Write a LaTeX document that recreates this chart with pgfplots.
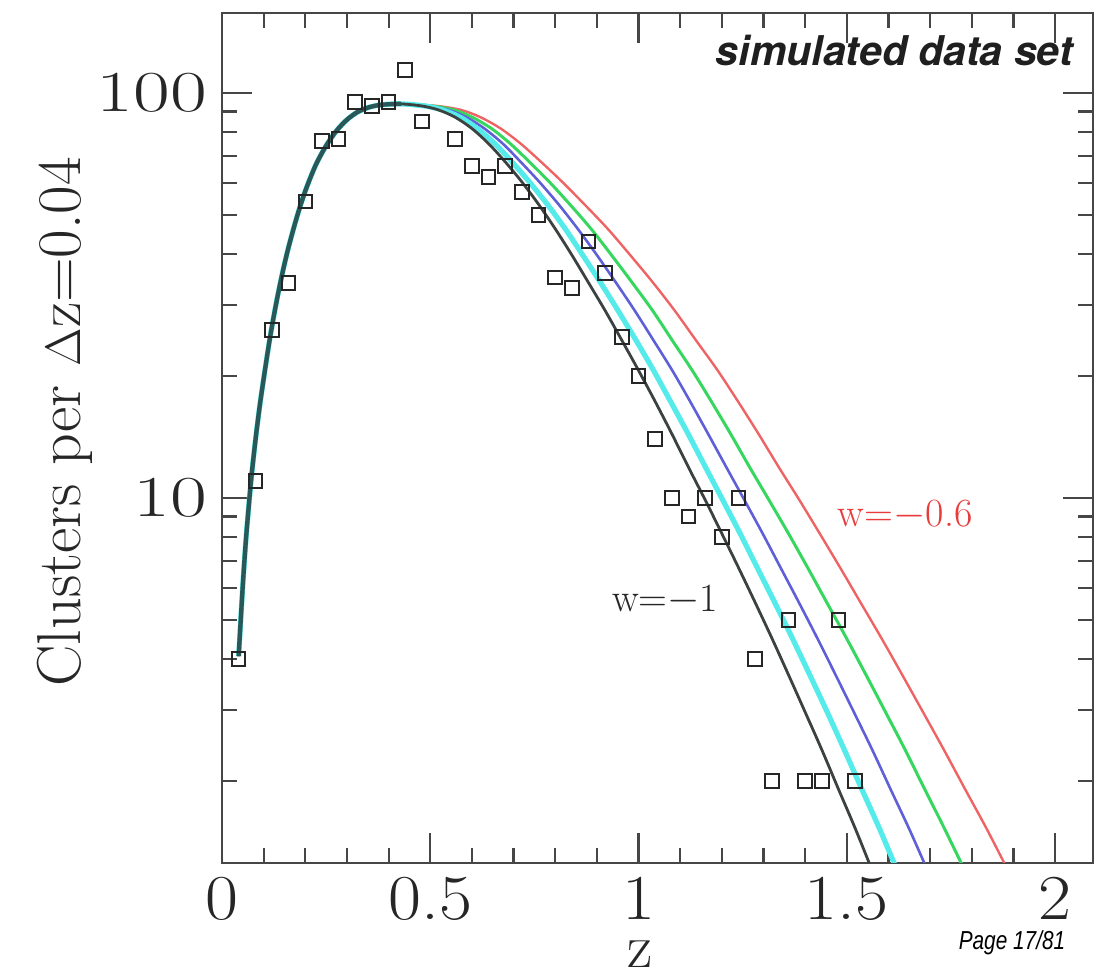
\documentclass[border=0pt]{standalone}
\usepackage{pgfplots}
\pgfplotsset{compat=1.18}
\usepackage{fontspec}
\usepackage{graphicx}
\newfontfamily\heros{TeX Gyre Heros}
\newfontfamily\libsans{Liberation Sans}
\definecolor{cRed}{RGB}{238,100,100}
\definecolor{cRedText}{RGB}{232,60,60}
\definecolor{cGreen}{RGB}{55,215,95}
\definecolor{cBlue}{RGB}{95,95,215}
\definecolor{cCyan}{RGB}{85,235,235}
\definecolor{cBlack}{RGB}{60,66,66}
\definecolor{cTeal}{RGB}{42,88,88}
\definecolor{cFrame}{RGB}{70,70,70}
\begin{document}
\begin{tikzpicture}
\begin{axis}[
  name=ax,
  scale only axis, width=435.5pt, height=425pt,
  xmin=0, xmax=2.091, ymin=1.2556, ymax=157.6, ymode=log,
  xtick={0,0.5,1,1.5,2},
  xticklabels={\scalebox{1.12}[1]{0},\scalebox{1.12}[1]{0.5},\scalebox{1.12}[1]{1},\scalebox{1.12}[1]{1.5},\scalebox{1.12}[1]{2}},
  xminorticks=true, minor x tick num=4,
  xtick pos=both, ytick pos=both,
  ytick={10,100}, yticklabels={\scalebox{1.38}[1]{10},\scalebox{1.38}[1]{100}},
  minor ytick={2,3,4,5,6,7,8,9,20,30,40,50,60,70,80,90},
  tick align=inside, major tick length=15pt, minor tick length=7.5pt,
  axis line style={cFrame, line width=1.3pt},
  major tick style={cFrame, line width=1.1pt},
  minor tick style={cFrame, line width=1.1pt},
  xticklabel style={font=\fontsize{32}{36}\selectfont, text=black!85, inner sep=1pt, yshift=-6pt},
  yticklabel style={font=\fontsize{29}{34}\selectfont, text=black!85, xshift=-4pt},
  xlabel={z}, ylabel={Clusters per $\Delta$z=0.04},
  label style={font=\fontsize{31}{36}\selectfont, text=black!85},
  xlabel style={at={(axis description cs:0.48,-0.107)}, anchor=center, inner sep=0.5pt},
  ylabel style={at={(axis description cs:-0.180,0.519)}, anchor=center},
  clip mode=individual,
]
% red w=-0.6
\addplot[cRed, line width=1.2pt, smooth] coordinates {
(0.040,4.07) (0.045,5.0) (0.050,6.1) (0.055,7.28) (0.060,8.5) (0.070,11.1) (0.080,13.8) (0.090,16.7) (0.100,19.7) (0.115,24.8) (0.130,30.2) (0.145,35.9) (0.160,41.7) (0.180,49.5) (0.200,57.3) (0.225,66.4) (0.250,74.1) (0.275,80.7) (0.300,85.9) (0.325,89.7) (0.350,92.0) (0.375,93.3) (0.400,93.8) (0.430,94.0)
(0.516,92.9) (0.574,90.8) (0.621,87.1) (0.669,81.7) (0.717,75.0) (0.766,67.6) (0.817,60.3) (0.870,53.1) (0.926,46.2) (0.980,39.8) (1.035,34.0) (1.087,29.0) (1.138,24.5) (1.190,20.65) (1.239,17.3) (1.288,14.4) (1.337,11.9) (1.386,9.89) (1.435,8.17) (1.484,6.73) (1.533,5.52) (1.583,4.51) (1.633,3.66) (1.683,2.96) (1.733,2.39) (1.784,1.91) (1.835,1.53) (1.886,1.21) (1.937,0.96)};
% green
\addplot[cGreen, line width=1.5pt, smooth] coordinates {
(0.040,4.07) (0.045,5.0) (0.050,6.1) (0.055,7.28) (0.060,8.5) (0.070,11.1) (0.080,13.8) (0.090,16.7) (0.100,19.7) (0.115,24.8) (0.130,30.2) (0.145,35.9) (0.160,41.7) (0.180,49.5) (0.200,57.3) (0.225,66.4) (0.250,74.1) (0.275,80.7) (0.300,85.9) (0.325,89.7) (0.350,92.0) (0.375,93.3) (0.400,93.8) (0.430,94.0)
(0.504,92.9) (0.557,90.8) (0.601,87.1) (0.647,81.7) (0.692,75.0) (0.738,67.6) (0.786,60.3) (0.835,53.1) (0.886,46.2) (0.935,39.8) (0.985,34.0) (1.034,29.0) (1.081,24.5) (1.129,20.65) (1.175,17.3) (1.221,14.4) (1.267,11.9) (1.313,9.89) (1.360,8.17) (1.406,6.73) (1.452,5.52) (1.499,4.51) (1.546,3.66) (1.593,2.96) (1.640,2.39) (1.687,1.91) (1.734,1.53) (1.782,1.21) (1.829,0.96)};
% blue
\addplot[cBlue, line width=1.3pt, smooth] coordinates {
(0.040,4.07) (0.045,5.0) (0.050,6.1) (0.055,7.28) (0.060,8.5) (0.070,11.1) (0.080,13.8) (0.090,16.7) (0.100,19.7) (0.115,24.8) (0.130,30.2) (0.145,35.9) (0.160,41.7) (0.180,49.5) (0.200,57.3) (0.225,66.4) (0.250,74.1) (0.275,80.7) (0.300,85.9) (0.325,89.7) (0.350,92.0) (0.375,93.3) (0.400,93.8) (0.430,94.0)
(0.496,92.9) (0.544,90.8) (0.587,87.1) (0.630,81.7) (0.674,75.0) (0.717,67.6) (0.762,60.3) (0.808,53.1) (0.854,46.2) (0.900,39.8) (0.946,34.0) (0.991,29.0) (1.036,24.5) (1.081,20.65) (1.124,17.3) (1.167,14.4) (1.211,11.9) (1.254,9.89) (1.298,8.17) (1.341,6.73) (1.385,5.52) (1.429,4.51) (1.473,3.66) (1.517,2.96) (1.561,2.39) (1.605,1.91) (1.649,1.53) (1.693,1.21) (1.738,0.96)};
% cyan
\addplot[cCyan, line width=2.6pt, smooth] coordinates {
(0.040,4.07) (0.045,5.0) (0.050,6.1) (0.055,7.28) (0.060,8.5) (0.070,11.1) (0.080,13.8) (0.090,16.7) (0.100,19.7) (0.115,24.8) (0.130,30.2) (0.145,35.9) (0.160,41.7) (0.180,49.5) (0.200,57.3) (0.225,66.4) (0.250,74.1) (0.275,80.7) (0.300,85.9) (0.325,89.7) (0.350,92.0) (0.375,93.3) (0.400,93.8) (0.430,94.0)
(0.487,92.9) (0.530,90.8) (0.572,87.1) (0.613,81.7) (0.655,75.0) (0.696,67.6) (0.738,60.3) (0.781,53.1) (0.824,46.2) (0.866,39.8) (0.909,34.0) (0.951,29.0) (0.994,24.5) (1.036,20.65) (1.077,17.3) (1.119,14.4) (1.161,11.9) (1.202,9.89) (1.244,8.17) (1.285,6.73) (1.327,5.52) (1.369,4.51) (1.411,3.66) (1.453,2.96) (1.494,2.39) (1.536,1.91) (1.578,1.53) (1.620,1.21) (1.662,0.96)};
% black w=-1
\addplot[cBlack, line width=1.4pt, smooth] coordinates {
(0.040,4.07) (0.045,5.0) (0.050,6.1) (0.055,7.28) (0.060,8.5) (0.070,11.1) (0.080,13.8) (0.090,16.7) (0.100,19.7) (0.115,24.8) (0.130,30.2) (0.145,35.9) (0.160,41.7) (0.180,49.5) (0.200,57.3) (0.225,66.4) (0.250,74.1) (0.275,80.7) (0.300,85.9) (0.325,89.7) (0.350,92.0) (0.375,93.3) (0.400,93.8) (0.430,94.0)
(0.48,92.9) (0.52,90.8) (0.56,87.1) (0.60,81.7) (0.64,75.0) (0.68,67.6) (0.72,60.3) (0.76,53.1) (0.80,46.2) (0.84,39.8) (0.88,34.0) (0.92,29.0) (0.96,24.5) (1.00,20.65) (1.04,17.3) (1.08,14.4) (1.12,11.9) (1.16,9.89) (1.20,8.17) (1.24,6.73) (1.28,5.52) (1.32,4.51) (1.36,3.66) (1.40,2.96) (1.44,2.39) (1.48,1.91) (1.52,1.53) (1.56,1.21) (1.60,0.96)};
% common low-z branch (all curves overlap)
\addplot[cTeal, line width=2.2pt, smooth] coordinates {
(0.040,4.07) (0.045,5.0) (0.050,6.1) (0.055,7.28) (0.060,8.5) (0.070,11.1) (0.080,13.8) (0.090,16.7) (0.100,19.7) (0.115,24.8) (0.130,30.2) (0.145,35.9) (0.160,41.7) (0.180,49.5) (0.200,57.3) (0.225,66.4) (0.250,74.1) (0.275,80.7) (0.300,85.9) (0.325,89.7) (0.350,92.0) (0.375,93.3) (0.400,93.8) (0.430,94.0)};
% simulated data
\addplot[only marks, mark=square, mark size=3.4pt, mark options={draw=black!85, line width=1pt, fill=none}] coordinates {
(0.04,4) (0.08,11) (0.12,26) (0.16,34) (0.20,54) (0.24,76) (0.28,77) (0.32,95) (0.36,93) (0.40,95) (0.44,114) (0.48,85)
(0.56,77) (0.60,66) (0.64,62) (0.68,66) (0.72,57) (0.76,50) (0.80,35) (0.84,33) (0.88,43) (0.92,36) (0.96,25) (1.00,20)
(1.04,14) (1.08,10) (1.12,9) (1.16,10) (1.20,8) (1.24,10) (1.28,4) (1.32,2) (1.36,5) (1.40,2) (1.44,2) (1.48,5) (1.52,2)};
\node[font=\fontsize{20}{24}\selectfont, text=black!85] at (axis cs:1.064,5.6) {w=$-$1};
\node[font=\fontsize{20}{24}\selectfont, text=cRedText] at (axis cs:1.64,9.08) {w=$-$0.6};
\node[anchor=east, font=\heros\bfseries\itshape\fontsize{20.5}{24}\selectfont, text=black!88] at (rel axis cs:0.985,0.956) {simulated data set};
\end{axis}
\node[font=\libsans\itshape\fontsize{13}{15}\selectfont, inner sep=1pt] at ([shift={(395pt,-40pt)}]ax.south west) {\scalebox{0.8}[1]{Page 17/81}};
\path ([shift={(-111pt,-57.5pt)}]ax.south west) rectangle ([shift={(5.5pt,6.5pt)}]ax.north east);
\end{tikzpicture}
\end{document}
